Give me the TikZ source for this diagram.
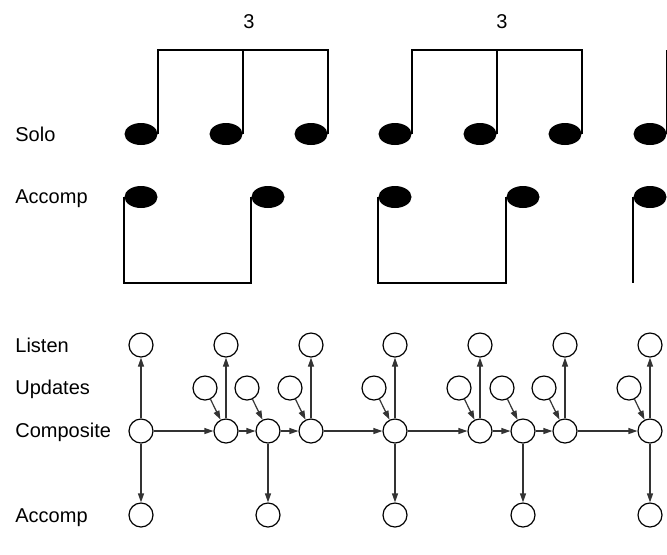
\documentclass[tikz,border=0pt]{standalone}
\usepackage{fontspec}
\setmainfont{Liberation Sans}
\usetikzlibrary{arrows.meta,shapes.geometric}
\tikzset{
  notehead/.style={ellipse,fill=black,inner sep=0pt,minimum width=16.5pt,minimum height=11pt},
  stem/.style={line width=0.9pt},
  state/.style={circle,draw,line width=0.6pt,minimum size=12pt,inner sep=0pt},
  flow/.style={-{Triangle[length=4.5pt,width=3pt]},draw=black!80,line width=0.6pt},
  lbl/.style={anchor=base west,inner sep=0pt,font=\fontsize{10}{12}\selectfont},
  tup/.style={anchor=base,inner sep=0pt,font=\fontsize{10}{12}\selectfont}
}
\begin{document}
\begin{tikzpicture}[x=0.5pt,y=-0.5pt]
            \useasboundingbox (0,0) rectangle (667,554);
            % row labels
            \node[lbl] (solo) at (15,141) {Solo};
            \node[lbl] (acc) at (15,203) {Accomp};
            \node[lbl] (listen) at (15,352) {Listen};
            \node[lbl] (upd) at (15,394) {Updates};
            \node[lbl] (comp) at (15,437) {Composite};
            \node[lbl] (accb) at (15,522) {Accomp};
            % solo notes
            \foreach \x [count=\i] in {141,226,311,395,480,565,650}
              \node[notehead] (s\i) at (\x,134) {};
            \draw[stem] (s1.east) |- (s3.east |- 0,50) -- (s3.east);
            \draw[stem] (s2.east) -- (s2.east |- 0,50);
            \draw[stem] (s4.east) |- (s6.east |- 0,50) -- (s6.east);
            \draw[stem] (s5.east) -- (s5.east |- 0,50);
            \draw[stem] (s7.east) -- (s7.east |- 0,50);
            \node[tup] (t1) at (249,28) {3};
            \node[tup] (t2) at (502,28) {3};
            % accompaniment notes
            \foreach \x [count=\i] in {141,268,395,523,650}
              \node[notehead] (a\i) at (\x,197) {};
            \draw[stem] (a1.west) |- (a2.west |- 0,283) -- (a2.west);
            \draw[stem] (a3.west) |- (a4.west |- 0,283) -- (a4.west);
            \draw[stem] (a5.west) -- (a5.west |- 0,283);
            % graph
            \foreach \x [count=\i] in {141,226,268,311,395,480,523,565,650}
              \node[state] (c\i) at (\x,431) {};
            \foreach \i [remember=\i as \j (initially 1)] in {2,...,9}
              \draw[flow] (c\j) -- (c\i);
            \foreach \i in {1,2,4,5,6,8,9} {
              \node[state] (l\i) at ([shift={(0,-86)}]c\i) {};
              \draw[flow] (c\i) -- (l\i);
            }
            \foreach \i in {2,...,9} {
              \node[state] (u\i) at ([shift={(-21,-43)}]c\i) {};
              \draw[flow] (u\i) -- (c\i);
            }
            \foreach \i in {1,3,5,7,9} {
              \node[state] (b\i) at ([shift={(0,84)}]c\i) {};
              \draw[flow] (c\i) -- (b\i);
            }
        \end{tikzpicture}
\end{document}
